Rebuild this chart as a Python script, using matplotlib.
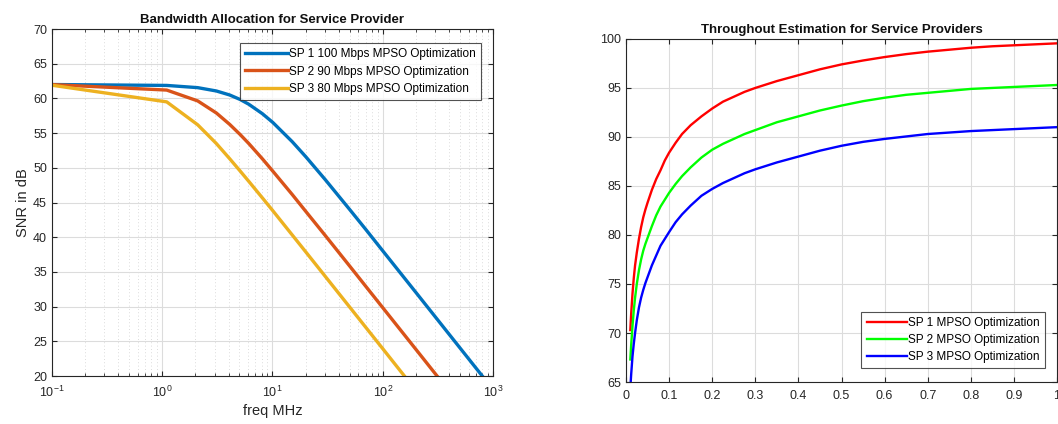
import numpy as np
import matplotlib
matplotlib.use("Agg")
import matplotlib.pyplot as plt
from matplotlib.ticker import LogLocator, NullFormatter, MultipleLocator, FuncFormatter

plt.rcParams["font.family"] = ["Liberation Sans", "DejaVu Sans"]
plt.rcParams["mathtext.default"] = "regular"

# left panel: SNR vs frequency (log x)
freq = [0.1, 1.1, 2.1, 3.1, 4.1, 5.1, 6.1, 8.1, 10.1, 15.1, 20.1, 30.1,
        50.1, 70.1, 100.1, 200.1, 500.1, 1000.1]
snr_sp1 = [62.0, 61.87, 61.55, 61.07, 60.49, 59.84, 59.16, 57.8, 56.52, 53.77,
           51.58, 48.3, 44.0, 41.13, 38.03, 32.03, 24.07, 18.05]
snr_sp2 = [61.99, 61.2, 59.64, 57.9, 56.25, 54.79, 53.5, 51.3, 49.5, 46.16,
           43.7, 40.25, 35.85, 32.93, 29.84, 23.83, 15.87, 9.85]
snr_sp3 = [61.9, 59.5, 56.2, 53.5, 51.3, 49.53, 48.05, 45.67, 43.8, 40.33,
           37.86, 34.36, 29.94, 27.02, 23.93, 17.9, 9.94, 3.92]
left_labels = ["SP 1 100 Mbps MPSO Optimization",
               "SP 2 90 Mbps MPSO Optimization",
               "SP 3 80 Mbps MPSO Optimization"]

# right panel: throughput
x_thr = [0.010, 0.012, 0.015, 0.018, 0.021, 0.025, 0.030, 0.035, 0.040, 0.045,
         0.050, 0.060, 0.070, 0.080, 0.090, 0.100, 0.115, 0.130, 0.150, 0.175,
         0.200, 0.225, 0.250, 0.275, 0.300, 0.350, 0.400, 0.450, 0.500, 0.550,
         0.600, 0.650, 0.700, 0.750, 0.800, 0.850, 0.900, 0.950, 1.000]
thr_sp1 = [70.3, 72.0, 74.0, 75.6, 76.9, 78.2, 79.6, 80.8, 81.8, 82.6,
           83.3, 84.6, 85.7, 86.6, 87.6, 88.4, 89.4, 90.3, 91.2, 92.1,
           92.9, 93.6, 94.1, 94.6, 95.0, 95.7, 96.3, 96.9, 97.4, 97.8,
           98.15, 98.45, 98.7, 98.9, 99.1, 99.25, 99.35, 99.45, 99.55]
thr_sp2 = [67.3, 68.8, 70.7, 72.3, 73.6, 75.0, 76.4, 77.5, 78.4, 79.1,
           79.7, 80.9, 82.0, 82.9, 83.6, 84.3, 85.2, 86.0, 86.9, 87.9,
           88.7, 89.3, 89.8, 90.3, 90.7, 91.5, 92.1, 92.7, 93.2, 93.65,
           94.0, 94.3, 94.5, 94.7, 94.9, 95.0, 95.1, 95.2, 95.3]
thr_sp3 = [64.4, 65.8, 67.6, 68.9, 70.0, 71.3, 72.6, 73.6, 74.4, 75.1,
           75.7, 76.9, 77.9, 78.9, 79.6, 80.3, 81.3, 82.1, 83.0, 84.0,
           84.7, 85.3, 85.8, 86.3, 86.7, 87.4, 88.0, 88.6, 89.1, 89.5,
           89.8, 90.05, 90.3, 90.45, 90.6, 90.7, 90.8, 90.9, 91.0]
right_labels = ["SP 1 MPSO Optimization", "SP 2 MPSO Optimization",
                "SP 3 MPSO Optimization"]

axcol = "#262626"


def style_axes(ax):
    for s in ax.spines.values():
        s.set_color(axcol)
        s.set_linewidth(0.8)
    ax.tick_params(which="both", direction="in", top=True, right=True,
                   colors=axcol, labelsize=9, labelcolor=axcol)
    ax.tick_params(which="major", length=3.5)
    ax.tick_params(which="minor", length=2)
    ax.tick_params(axis="x", which="major", pad=6)


fig = plt.figure(figsize=(10.58, 4.24), dpi=100)

# ---- left ----
ax1 = fig.add_axes([0.049, 0.1132, 0.417, 0.8184])
ax1.plot(freq, snr_sp1, color="#0072BD", lw=2.4, label=left_labels[0])
ax1.plot(freq, snr_sp2, color="#D95319", lw=2.4, label=left_labels[1])
ax1.plot(freq, snr_sp3, color="#EDB120", lw=2.4, label=left_labels[2])
ax1.set_xscale("log")
ax1.set_xlim(0.1, 1000)
ax1.set_ylim(20, 70)
ax1.yaxis.set_major_locator(MultipleLocator(5))
ax1.xaxis.set_major_locator(LogLocator(base=10, numticks=10))
ax1.xaxis.set_minor_locator(LogLocator(base=10, subs=np.arange(2, 10), numticks=20))
ax1.xaxis.set_minor_formatter(NullFormatter())
ax1.grid(True, which="major", color="#dcdcdc", lw=0.8)
ax1.grid(True, which="minor", axis="x", color="#cfcfcf", lw=0.6, ls=(0, (1, 3)))
ax1.set_axisbelow(True)
style_axes(ax1)
ax1.set_title("Bandwidth Allocation for Service Provider", fontsize=9.5,
              fontweight="bold", color="#111111", pad=4)
ax1.set_xlabel("freq MHz", fontsize=10.5, color=axcol, labelpad=3)
ax1.set_ylabel("SNR in dB", fontsize=10.5, color=axcol, labelpad=2)
leg1 = ax1.legend(loc="upper right", bbox_to_anchor=(0.973, 0.96), fontsize=8.5,
                  frameon=True, fancybox=False, edgecolor="#262626",
                  handlelength=3.6, handletextpad=0.1, borderpad=0.45,
                  labelspacing=0.45, borderaxespad=0)
leg1.get_frame().set_linewidth(0.8)

# ---- right ----
ax2 = fig.add_axes([0.5917, 0.099, 0.4074, 0.8092])
ax2.plot(x_thr, thr_sp1, color="#FF0000", lw=1.7, label=right_labels[0])
ax2.plot(x_thr, thr_sp2, color="#00FF00", lw=1.7, label=right_labels[1])
ax2.plot(x_thr, thr_sp3, color="#0000FF", lw=1.7, label=right_labels[2])
ax2.set_xlim(0, 1)
ax2.set_ylim(65, 100)
ax2.xaxis.set_major_locator(MultipleLocator(0.1))
ax2.yaxis.set_major_locator(MultipleLocator(5))
ax2.xaxis.set_major_formatter(FuncFormatter(lambda v, p: "{:g}".format(round(v, 1))))
ax2.grid(True, which="major", color="#dcdcdc", lw=0.8)
ax2.set_axisbelow(True)
style_axes(ax2)
ax2.set_title("Throughout Estimation for Service Providers", fontsize=9.5,
              fontweight="bold", color="#111111", pad=4)
leg2 = ax2.legend(loc="lower right", bbox_to_anchor=(0.972, 0.041), fontsize=8.5,
                  frameon=True, fancybox=False, edgecolor="#262626",
                  handlelength=3.4, handletextpad=0.1, borderpad=0.45,
                  labelspacing=0.4, borderaxespad=0)
leg2.get_frame().set_linewidth(0.8)

fig.savefig("out.png", dpi=100)
